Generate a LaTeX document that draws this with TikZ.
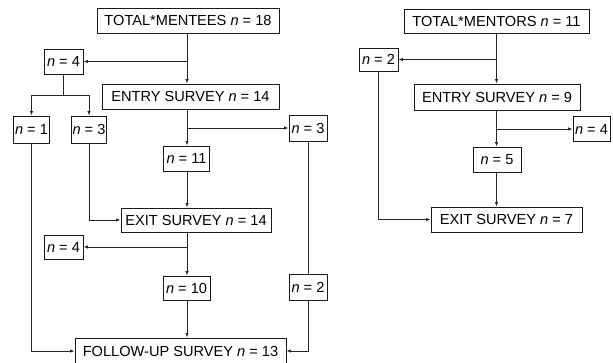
\documentclass[tikz,border=0pt]{standalone}
\usepackage{fontspec}
\setmainfont{Liberation Sans}
\usetikzlibrary{arrows.meta,calc}
\begin{document}
\begin{tikzpicture}[x=1pt,y=-1pt,
  box/.style={draw=black!90,line width=0.9pt,inner sep=0pt,font=\fontsize{14.6}{17}\selectfont,anchor=center},
  conn/.style={line width=0.8pt,draw=black!85},
  arr/.style={conn,-{Latex[length=4.5pt,width=3.5pt]}}]
\useasboundingbox (0,0) rectangle (613,362);
% ---------- left: mentees ----------
\coordinate (sL) at (187,0);
\node[box,minimum width=182pt,minimum height=25pt] (tm) at (188,20.5) {TOTAL*MENTEES \textit{n} = 18};
\node[box,minimum width=39pt,minimum height=25pt] (n4a) at (63.5,61.5) {\textit{n} = 4};
\node[box,minimum width=177pt,minimum height=25pt] (entry) at (190.5,96.5) {ENTRY SURVEY \textit{n} = 14};
\node[box,minimum width=36pt,minimum height=27pt] (n1) at (31.5,129.5) {\textit{n} = 1};
\node[box,minimum width=35pt,minimum height=27pt] (n3a) at (89,129.5) {\textit{n} = 3};
\node[box,minimum width=38pt,minimum height=26pt] (n3b) at (308,128) {\textit{n} = 3};
\node[box,minimum width=46pt,minimum height=25pt] (n11) at (186.5,158.5) {\textit{n} = 11};
\node[box,minimum width=150pt,minimum height=24pt] (exit) at (196,220) {EXIT SURVEY \textit{n} = 14};
\node[box,minimum width=39pt,minimum height=24pt] (n4b) at (63.5,247) {\textit{n} = 4};
\node[box,minimum width=47pt,minimum height=24pt] (n10) at (186.5,288) {\textit{n} = 10};
\node[box,minimum width=38pt,minimum height=26pt] (n2b) at (308,287) {\textit{n} = 2};
\node[box,minimum width=211pt,minimum height=26pt] (follow) at (180.5,351) {FOLLOW-UP SURVEY \textit{n} = 13};
\draw[arr] (tm.south -| sL) -- (entry.north -| sL);
\draw[arr] (sL |- n4a.east) -- (n4a.east);
\coordinate (sp) at ($(n4a.south)+(0,21)$);
\draw[conn] (n4a.south) -- (sp);
\draw[arr] (sp) -| (n1.north);
\draw[arr] (sp) -| (n3a.north);
\draw[arr] (entry.south -| sL) -- (n11.north -| sL);
\draw[arr] (sL |- n3b.west) -- (n3b.west);
\draw[arr] (n11.south -| sL) -- (exit.north -| sL);
\draw[arr] (n3a.south) |- (exit.west);
\draw[arr] (exit.south -| sL) -- (n10.north -| sL);
\draw[arr] (sL |- n4b.east) -- (n4b.east);
\draw[arr] (n10.south -| sL) -- (follow.north -| sL);
\draw[arr] (n1.south) |- (follow.west);
\draw[conn] (n3b.south) -- (n2b.north);
\draw[arr] (n2b.south) |- (follow.east);
% ---------- right: mentors ----------
\coordinate (sR) at (496.5,0);
\node[box,minimum width=185pt,minimum height=24pt] (tmr) at (496.5,21) {TOTAL*MENTORS \textit{n} = 11};
\node[box,minimum width=39pt,minimum height=23pt] (n2r) at (378.5,59.5) {\textit{n} = 2};
\node[box,minimum width=166pt,minimum height=26pt] (entryr) at (497,97) {ENTRY SURVEY \textit{n} = 9};
\node[box,minimum width=37pt,minimum height=25pt] (n4r) at (591.5,129) {\textit{n} = 4};
\node[box,minimum width=48pt,minimum height=25pt] (n5r) at (497,159.5) {\textit{n} = 5};
\node[box,minimum width=151pt,minimum height=25pt] (exitr) at (506.5,219.5) {EXIT SURVEY \textit{n} = 7};
\draw[arr] (tmr.south -| sR) -- (entryr.north -| sR);
\draw[arr] (sR |- n2r.east) -- (n2r.east);
\draw[arr] (entryr.south -| sR) -- (n5r.north -| sR);
\draw[arr] (sR |- n4r.west) -- (n4r.west);
\draw[arr] (n5r.south -| sR) -- (exitr.north -| sR);
\draw[arr] (n2r.south) |- (exitr.west);
\end{tikzpicture}
\end{document}
